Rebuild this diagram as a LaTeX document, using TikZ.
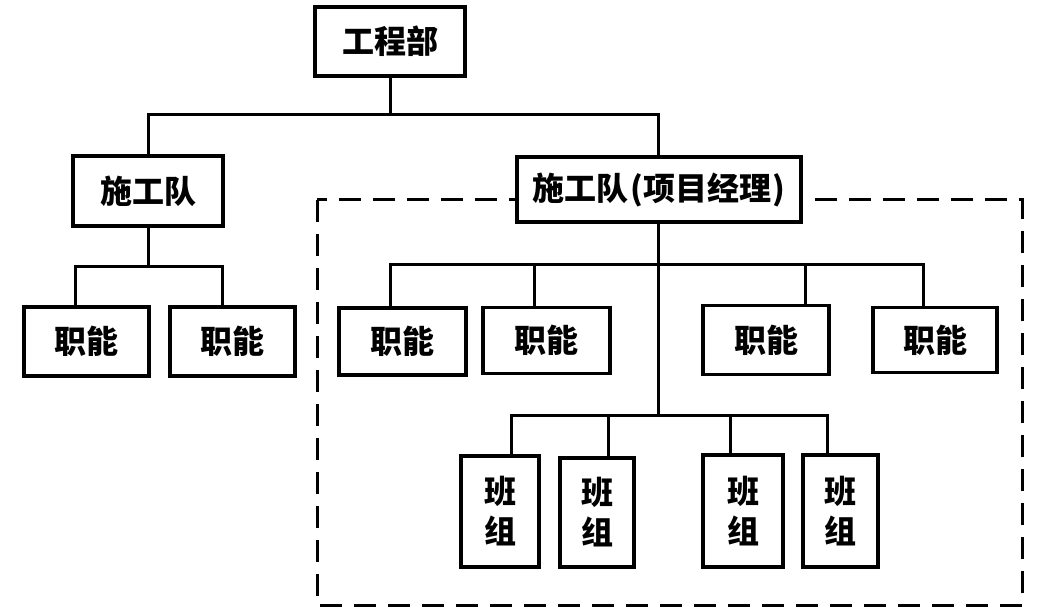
\documentclass[tikz,border=0pt]{standalone}
\usepackage{fontspec}
\newfontfamily\cjk{Noto Sans CJK SC}
\usetikzlibrary{calc}
\begin{document}
\begin{tikzpicture}[x=1pt,y=-1pt,
  box/.style={draw=black,line width=3.6pt,fill=white,inner sep=0pt,
    font=\cjk\bfseries\fontsize{32}{38}\selectfont,align=center},
  conn/.style={draw=black,line width=3pt},
  group/.style={draw=black,line width=3pt,dash pattern=on 22pt off 12pt}]
\useasboundingbox (0,0) rectangle (1048,612);
% dashed enclosure
\draw[group] (317,200) rectangle (1022,605);
% nodes
\node[box,minimum width=150pt,minimum height=69pt] (top) at (390,41.5) {工程部};
\node[box,minimum width=150pt,minimum height=70pt] (L) at (148,191) {施工队};
\node[box,minimum width=284pt,minimum height=65pt] (R) at (659,189.5) {施工队\kern2pt(项目经理\kern1pt)};
\node[box,minimum width=125pt,minimum height=69pt] (LF1) at (86.5,341.5) {职能};
\node[box,minimum width=125pt,minimum height=69pt] (LF2) at (232.5,341.5) {职能};
\node[box,minimum width=127pt,minimum height=67pt] (RA) at (402.5,341.5) {职能};
\node[box,minimum width=127pt,minimum height=66pt] (RB) at (546.5,340.5) {职能};
\node[box,minimum width=126pt,minimum height=69pt] (RC) at (766,340) {职能};
\node[box,minimum width=124pt,minimum height=65pt] (RD) at (935,340) {职能};
\node[box,minimum width=78pt,minimum height=111pt] (G1) at (500,511.5) {班\\[2pt]组};
\node[box,minimum width=74pt,minimum height=109pt] (G2) at (597,512.5) {班\\[2pt]组};
\node[box,minimum width=80pt,minimum height=112pt] (G3) at (743,511) {班\\[2pt]组};
\node[box,minimum width=75pt,minimum height=112pt] (G4) at (840.5,511) {班\\[2pt]组};
% connector points
\coordinate (b1) at (390,115);
\coordinate (lb) at (148,266);
\coordinate (rb) at (658,264);
\coordinate (gb) at (658,415);
\coordinate (lf1t) at ($(LF1.north)+(-11.5,0)$);
\coordinate (lf2t) at ($(LF2.north)+(-10.5,0)$);
\coordinate (rat) at ($(RA.north)+(-12.5,0)$);
\coordinate (rbt) at ($(RB.north)+(-12.5,0)$);
\coordinate (rct) at ($(RC.north)+(39,0)$);
\coordinate (rdt) at ($(RD.north)+(-12,0)$);
\coordinate (g1t) at ($(G1.north)+(11,0)$);
\coordinate (g2t) at ($(G2.north)+(11,0)$);
\coordinate (g3t) at ($(G3.north)+(-13,0)$);
\coordinate (g4t) at ($(G4.north)+(-13.5,0)$);
% connectors
\draw[conn] (top.south) -- (b1);
\draw[conn] (L.north) |- (b1) -| ($(R.north)+(-1,0)$);
\draw[conn] (L.south) -- (lb);
\draw[conn] (lf1t) |- (lb) -| (lf2t);
\draw[conn] ($(R.south)+(-1,0)$) -- (gb);
\draw[conn] (rat) |- (rb) -| (rdt);
\draw[conn] (rbt) -- (rbt |- rb);
\draw[conn] (rct) -- (rct |- rb);
\draw[conn] (g1t) |- (gb) -| (g4t);
\draw[conn] (g2t) -- (g2t |- gb);
\draw[conn] (g3t) -- (g3t |- gb);
\end{tikzpicture}
\end{document}
